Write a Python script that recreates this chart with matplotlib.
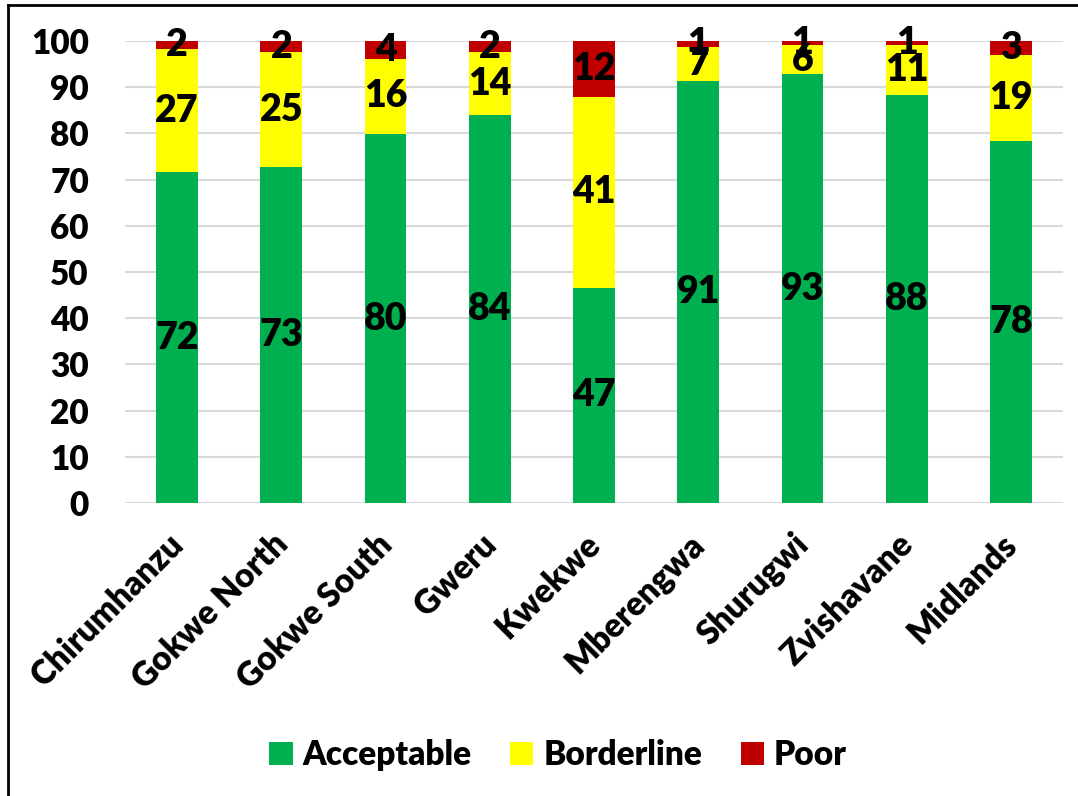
import matplotlib
matplotlib.use("Agg")
import matplotlib.pyplot as plt
import numpy as np
from matplotlib.lines import Line2D
from matplotlib.patches import Patch

categories = ["Chirumhanzu", "Gokwe North", "Gokwe South", "Gweru", "Kwekwe",
              "Mberengwa", "Shurugwi", "Zvishavane", "Midlands"]
acceptable = [71.6, 72.7, 79.8, 83.95, 46.6, 91.3, 92.8, 88.3, 78.3]
borderline = [26.7, 24.9, 16.4, 13.6, 41.3, 7.4, 6.3, 10.8, 18.6]
poor = [1.7, 2.4, 3.7, 2.4, 12.1, 1.2, 0.9, 0.9, 3.1]
series_names = ["Acceptable", "Borderline", "Poor"]
colors = ["#00B050", "#FFFF00", "#C00000"]
yticks = [0, 10, 20, 30, 40, 50, 60, 70, 80, 90, 100]

plt.rcParams['font.family'] = ['Lato', 'DejaVu Sans']
WEIGHT = 'heavy'
plt.rcParams['font.weight'] = WEIGHT

W, H = 1078, 796
fig = plt.figure(figsize=(W / 100, H / 100), dpi=100)
ax = fig.add_axes([125 / W, 1 - 503 / H, (1063 - 125) / W, (503 - 41) / H])

x = np.arange(len(categories))
bottom = np.zeros(len(categories))
for vals, col, name in zip([acceptable, borderline, poor], colors, series_names):
    vals = np.array(vals)
    ax.bar(x, vals, width=0.4, bottom=bottom, color=col, label=name, zorder=3)
    for xi, b, v in zip(x, bottom, vals):
        ax.text(xi, b + v / 2, f"{int(round(v))}", ha='center', va='center',
                fontsize=27, fontweight=WEIGHT, color='black', zorder=4)
    bottom = bottom + vals

ax.set_xlim(-0.5, len(categories) - 0.5)
ax.set_ylim(0, 100)
ax.set_yticks(yticks)
ax.set_yticklabels([str(t) for t in yticks], fontsize=24, fontweight=WEIGHT)
ax.yaxis.grid(True, color='#D9D9D9', linewidth=1.5, zorder=0)
ax.set_axisbelow(True)
for s in ax.spines.values():
    s.set_visible(False)
ax.tick_params(axis='y', length=0, pad=26)
ax.tick_params(axis='x', length=0, pad=18)
ax.set_xticks(x)
ax.set_xticklabels(categories, rotation=45, ha='right', rotation_mode='anchor',
                   fontsize=24, fontweight=WEIGHT)
for lbl in ax.get_xticklabels():
    lbl.set_transform(lbl.get_transform() + matplotlib.transforms.ScaledTranslation(-0.10, 0, fig.dpi_scale_trans))

handles = [Patch(facecolor=c, edgecolor='none') for c in colors]
fig.legend(handles, series_names, loc='center', bbox_to_anchor=(558 / W, 1 - 755 / H),
           ncol=3, frameon=False, handlelength=0.7, handleheight=0.7,
           handletextpad=0.3, columnspacing=1.15, prop={'weight': WEIGHT, 'size': 24})

# figure frame (top and left edges visible)
fig.add_artist(Line2D([8 / W, 1.0], [1 - 5 / H, 1 - 5 / H], transform=fig.transFigure,
                      color='black', linewidth=2))
fig.add_artist(Line2D([8 / W, 8 / W], [0, 1 - 5 / H], transform=fig.transFigure,
                      color='black', linewidth=2))

fig.savefig("out.png", dpi=100, facecolor='white')
